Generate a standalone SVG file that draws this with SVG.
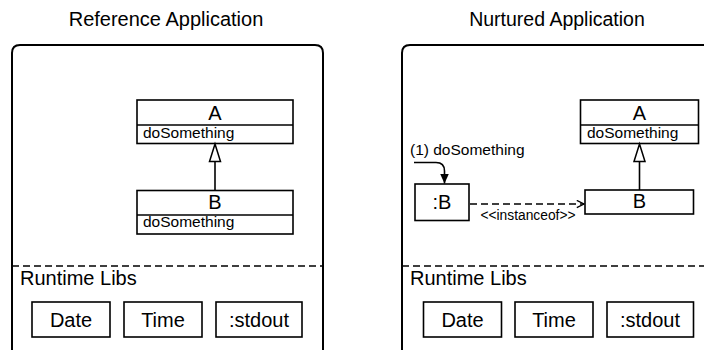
<svg xmlns="http://www.w3.org/2000/svg" width="704" height="350" viewBox="0 0 704 350">
<defs>
<style>
text{font-family:"Liberation Sans",Arial,Helvetica,sans-serif;fill:#000}
.frame{fill:none;stroke:#000;stroke-width:2}
.box{fill:#fff;stroke:#000;stroke-width:1.6}
.ln{fill:none;stroke:#000;stroke-width:1.6}
.dash{fill:none;stroke:#000;stroke-width:1.5;stroke-dasharray:7 4}
.t20{font-size:20px}
.t16{font-size:15.5px}
.c{text-anchor:middle}
</style>
<marker id="open" viewBox="0 0 10 10" refX="9" refY="5" markerWidth="9" markerHeight="9" orient="auto" markerUnits="userSpaceOnUse">
<path d="M1,1 L9,5 L1,9" fill="none" stroke="#000" stroke-width="1.5"/>
</marker>
<marker id="filled" viewBox="0 0 10 10" refX="10" refY="5" markerWidth="10" markerHeight="10" orient="auto" markerUnits="userSpaceOnUse">
<path d="M0,0.5 L10,5 L0,9.5 Z" fill="#000"/>
</marker>
</defs>

<text x="166" y="26" class="t20 c">Reference Application</text>
<text x="557" y="26" class="t20 c" style="font-size:19.5px">Nurtured Application</text>

<g id="left-frame">
<path class="frame" d="M12,360 V53 Q12,45 20,45 H315 Q323,45 323,53 V360"/>
<line class="dash" x1="12" y1="266" x2="323" y2="266"/>
<text x="20" y="285" class="t20">Runtime Libs</text>
</g>

<g id="left-A">
<rect class="box" x="137" y="100" width="156" height="43.5"/>
<line class="ln" x1="137" y1="125" x2="293" y2="125"/>
<text x="215" y="120" class="t20 c">A</text>
<text x="143" y="137.5" class="t16">doSomething</text>
</g>
<g id="left-B">
<rect class="box" x="137" y="190.5" width="156" height="43.5"/>
<line class="ln" x1="137" y1="215" x2="293" y2="215"/>
<text x="215" y="208.5" class="t20 c">B</text>
<text x="143" y="227" class="t16">doSomething</text>
</g>

<g id="left-date"><rect class="box" x="32" y="302" width="78" height="35"/><text x="71" y="326.5" class="t20 c">Date</text></g>
<g id="left-time"><rect class="box" x="124" y="302" width="78" height="35"/><text x="163" y="326.5" class="t20 c">Time</text></g>
<g id="left-stdout"><rect class="box" x="216" y="302" width="86" height="35"/><text x="259" y="326.5" class="t20 c">:stdout</text></g>

<g id="right-frame">
<path class="frame" d="M402,360 V53 Q402,45 410,45 H705 Q713,45 713,53 V360"/>
<line class="dash" x1="402" y1="266" x2="713" y2="266"/>
<text x="410" y="285" class="t20">Runtime Libs</text>
</g>

<g id="right-A">
<rect class="box" x="580.5" y="100" width="118" height="43.5"/>
<line class="ln" x1="580.5" y1="125" x2="698.5" y2="125"/>
<text x="639.5" y="120" class="t20 c">A</text>
<text x="587" y="137.5" class="t16">doSomething</text>
</g>
<g id="right-B">
<rect class="box" x="585" y="190" width="108.5" height="24"/>
<text x="639.5" y="208" class="t20 c">B</text>
</g>
<g id="obj-B">
<rect class="box" x="415" y="184" width="54" height="36.5"/>
<text x="442" y="208.5" class="t20 c">:B</text>
</g>

<g id="right-date"><rect class="box" x="423.5" y="302" width="78" height="35"/><text x="462.5" y="326.5" class="t20 c">Date</text></g>
<g id="right-time"><rect class="box" x="515" y="302" width="78" height="35"/><text x="554" y="326.5" class="t20 c">Time</text></g>
<g id="right-stdout"><rect class="box" x="607" y="302" width="86.5" height="35"/><text x="650" y="326.5" class="t20 c">:stdout</text></g>

<g id="connectors">
<line class="ln" x1="215" y1="161.5" x2="215" y2="190.5"/>
<path d="M215,144 L220.5,161.5 H209.5 Z" fill="#fff" stroke="#000" stroke-width="1.5"/>
<line class="ln" x1="639.5" y1="161.5" x2="639.5" y2="190"/>
<path d="M639.5,144 L645,161.5 H634 Z" fill="#fff" stroke="#000" stroke-width="1.5"/>
<line class="dash" x1="470" y1="204" x2="584" y2="204" marker-end="url(#open)"/>
<text x="528" y="220" class="c" style="font-size:13.8px">&lt;&lt;instanceof&gt;&gt;</text>
<path class="ln" d="M414,162.5 H436 Q444.5,162.5 444.5,171 V183.5" marker-end="url(#filled)"/>
<text x="410" y="155" class="t16">(1) doSomething</text>
</g>
</svg>
